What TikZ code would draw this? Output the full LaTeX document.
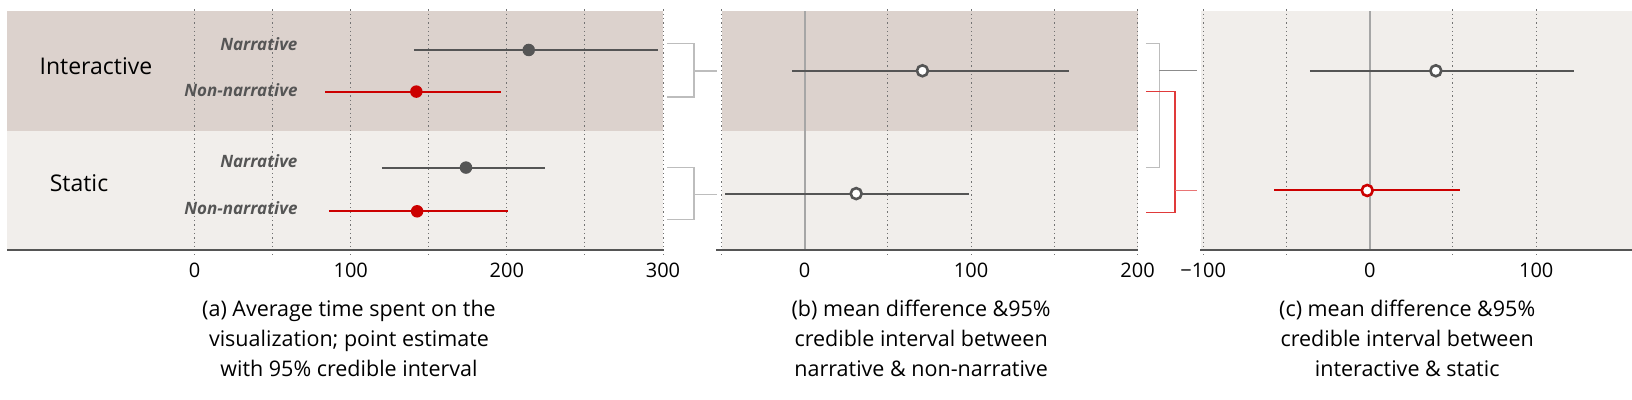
\documentclass[tikz,border=0pt]{standalone}
\usepackage{fontspec}
\setmainfont{Open Sans}
\usetikzlibrary{positioning,calc}
\definecolor{bandI}{HTML}{DCD2CD}
\definecolor{bandS}{HTML}{F1EEEB}
\definecolor{lineG}{HTML}{555555}
\definecolor{estR}{HTML}{CC0000}
\definecolor{brkG}{HTML}{BDBDBD}
\definecolor{brkR}{HTML}{E03A3A}
\begin{document}
\begin{tikzpicture}[x=1.0408pt,y=-1.0408pt,
	gridln/.style={draw=black!55, line width=1pt, dash pattern=on 1.3pt off 3pt},
	zeroln/.style={draw=black!35, line width=1.9pt},
	axisln/.style={draw=lineG, line width=2.5pt},
	ci/.style={draw=lineG, line width=2pt},
	cired/.style={draw=estR, line width=2pt},
	est/.style={circle, fill=lineG, inner sep=0pt, minimum size=12.5pt},
	estred/.style={est, fill=estR},
	diff/.style={circle, draw=lineG, fill=white, line width=2.6pt, inner sep=0pt, minimum size=11pt},
	diffred/.style={diff, draw=estR},
	grp/.style={font=\fontsize{23}{26}\selectfont, anchor=base, inner sep=0pt},
	cond/.style={font=\fontsize{17}{20}\selectfont\bfseries\itshape, text=lineG, anchor=base east, inner sep=0pt},
	ticklbl/.style={font=\fontsize{20}{22}\selectfont, anchor=base, inner sep=0pt},
	captxt/.style={font=\fontsize{21.5}{30}\selectfont, align=center, anchor=base, inner sep=0pt},
	brk/.style={draw=brkG, line width=1.5pt},
	brkred/.style={draw=brkR, line width=1.3pt}]
	\useasboundingbox (0,0) rectangle (1568,384.3);
	
	% (a) average time
	\fill[bandI] (7,11) rectangle (637,126);
	\fill[bandS] (7,126) rectangle (637,240);
	\foreach \v in {0,50,...,300}
		\draw[gridln] (187+1.5*\v,9) -- (187+1.5*\v,245);
	\draw[axisln] (7,240) -- (638,240);
	\foreach \v in {0,100,200,300}
		\node[ticklbl] at (187+1.5*\v,267) {\v};
	
	\node[grp] (inter) at (92.2,71.1) {Interactive};
	\node[grp] (stat) at (75.9,184.2) {Static};
	\node[cond] (inN) at (286,48.7) {Narrative};
	\node[cond, below=46pt of inN.base east, anchor=base east] (inNN) {Non-narrative};
	\node[cond] (stN) at (286,161.4) {Narrative};
	\node[cond, below=47pt of stN.base east, anchor=base east] (stNN) {Non-narrative};
	
	\begin{scope}[shift={(187,0)}, xscale=1.5]
		\draw[ci] (140.5,48) coordinate (inNl) -- (296.5,48) coordinate (inNr);
		\node[est] (inNe) at (214,48) {};
		\draw[cired] (83.7,88) coordinate (inNNl) -- (196,88) coordinate (inNNr);
		\node[estred] (inNNe) at (142,88) {};
		\draw[ci] (120,161) coordinate (stNl) -- (224.5,161) coordinate (stNr);
		\node[est] (stNe) at (173.8,161) {};
		\draw[cired] (86,203) coordinate (stNNl) -- (201,203) coordinate (stNNr);
		\node[estred] (stNNe) at (142.5,203) {};
	\end{scope}
	
	\node[captxt] (capA) at (335.3,362.2) {(a) Average time spent on the\\visualization; point estimate\\with 95\% credible interval};
	
	% brackets (a) -> (b)
	\coordinate (aIt) at (641,42);
	\coordinate (aIb) at (641,93);
	\coordinate (bI) at (689,68);
	\draw[brk] (aIt) -- ++(26,0) coordinate (aIm) -- (aIm |- aIb) -- (aIb);
	\draw[brk] (aIm |- bI) -- (bI);
	\coordinate (aSt) at (641,161);
	\coordinate (aSb) at (641,211);
	\coordinate (bS) at (689,187);
	\draw[brk] (aSt) -- ++(26,0) coordinate (aSm) -- (aSm |- aSb) -- (aSb);
	\draw[brk] (aSm |- bS) -- (bS);
	
	% (b) narrative - non-narrative
	\fill[bandI] (694,11) rectangle (1093,126);
	\fill[bandS] (694,126) rectangle (1093,240);
	\foreach \v in {-50,50,100,150,200}
		\draw[gridln] (773+1.6*\v,9) -- (773+1.6*\v,245);
	\draw[zeroln] (773,11) -- (773,241);
	\draw[axisln] (688,240) -- (1093,240);
	\foreach \v in {0,100,200}
		\node[ticklbl] at (773+1.6*\v,267) {\v};
	
	\begin{scope}[shift={(773,0)}, xscale=1.6]
		\draw[ci] (-7.5,68) coordinate (dIl) -- (158.8,68) coordinate (dIr);
		\node[diff] (dIe) at (70.8,68) {};
		\draw[ci] (-47.7,186) coordinate (dSl) -- (99,186) coordinate (dSr);
		\node[diff] (dSe) at (31,186) {};
	\end{scope}
	
	\node[captxt] (capB) at (885,362.2) {(b) mean difference \&95\%\\credible interval between\\narrative \& non-narrative};
	
	% brackets (b) -> (c)
	\coordinate (bNt) at (1101,42);
	\coordinate (bNb) at (1101,161);
	\coordinate (cN) at (1150,68);
	\draw[brk] (bNt) -- ++(13,0) coordinate (bNm) -- (bNm |- bNb) -- (bNb);
	\draw[brk, draw=black!45, line width=1pt] (bNm |- cN) -- (cN);
	\coordinate (bRt) at (1101,88);
	\coordinate (bRb) at (1101,204);
	\coordinate (cR) at (1150,183);
	\draw[brkred] (bRt) -- ++(28,0) coordinate (bRm) -- (bRm |- bRb) -- (bRb);
	\draw[brkred, draw=brkR!70] (bRm |- cR) -- (cR);
	
	% (c) interactive - static
	\fill[bandS] (1154,11) rectangle (1568,240);
	\foreach \v in {-100,-50,50,100}
		\draw[gridln] (1316+1.6*\v,9) -- (1316+1.6*\v,245);
	\draw[zeroln] (1316,11) -- (1316,241);
	\draw[axisln] (1153,240) -- (1568,240);
	\node[ticklbl] at (1156,267) {−100};
	\node[ticklbl] at (1316,267) {0};
	\node[ticklbl] at (1476,267) {100};
	
	\begin{scope}[shift={(1316,0)}, xscale=1.6]
		\draw[ci] (-35.9,68) coordinate (eNl) -- (122.9,68) coordinate (eNr);
		\node[diff] (eNe) at (39.7,68) {};
		\draw[cired] (-57.4,183) coordinate (eRl) -- (54.2,183) coordinate (eRr);
		\node[diffred] (eRe) at (-1.5,183) {};
	\end{scope}
	
	\node[captxt] (capC) at (1352,362.2) {(c) mean difference \&95\%\\credible interval between\\interactive \& static};
\end{tikzpicture}
\end{document}
